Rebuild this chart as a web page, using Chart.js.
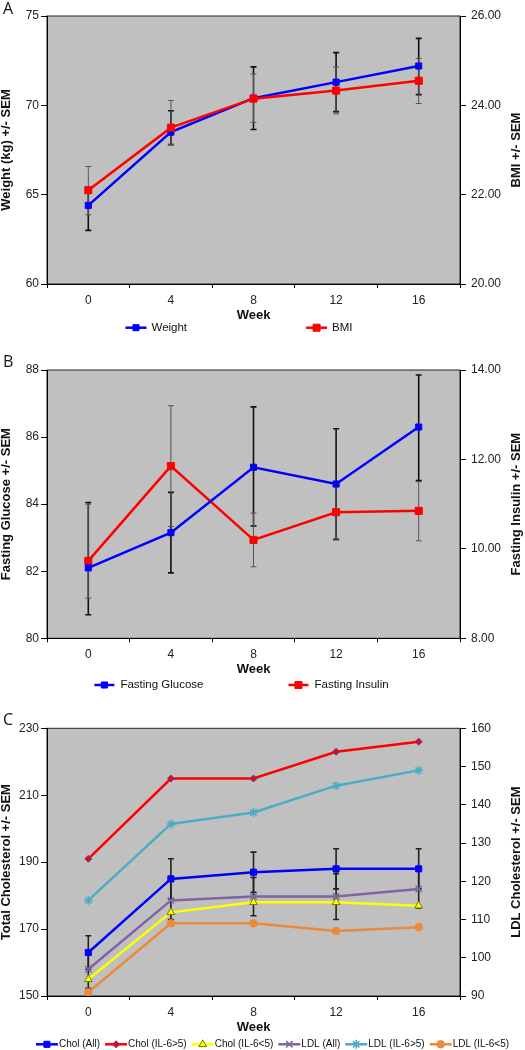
<!DOCTYPE html>
<html lang="en">
<head>
<meta charset="UTF-8">
<title>Weight, glucose and cholesterol by week</title>
<script src="https://cdn.jsdelivr.net/npm/chart.js@4.4.1/dist/chart.umd.min.js"></script>
<style>
  body { margin: 0; background: #fff; }
  canvas { position: absolute; left: 0; display: block; }
</style>
</head>
<body>
<canvas id="chartA" width="525" height="340" style="top:0"></canvas>
<canvas id="chartB" width="525" height="355" style="top:340px"></canvas>
<canvas id="chartC" width="525" height="355" style="top:695px"></canvas>

<script>
// ---- data ----
const weeks = ['0', '4', '8', '12', '16'];

// A: weight / BMI (error bar ends as drawn)
const weight = [64.4, 68.5, 70.4, 71.3, 72.2];
const weightLow = [63.0, 67.8, 68.65, 69.65, 70.6];
const weightHigh = [65.3, 69.7, 72.15, 72.95, 73.75];
const bmi = [22.1, 23.5, 24.15, 24.33, 24.55];
const bmiLow = [21.55, 23.12, 23.62, 23.81, 24.04];
const bmiHigh = [22.63, 24.11, 24.7, 24.86, 25.05];

// B: fasting glucose / insulin
const glucose = [82.1, 83.15, 85.1, 84.6, 86.3];
const glucoseLow = [80.7, 81.95, 83.35, 82.95, 84.7];
const glucoseHigh = [84.05, 84.35, 86.9, 86.25, 87.85];
const insulin = [9.73, 11.85, 10.2, 10.82, 10.85];
const insulinLow = [8.9, 10.5, 9.6, 10.2, 10.18];
const insulinHigh = [11.0, 13.2, 10.8, 11.45, 11.5];

// C: cholesterol
const cholAll = [163, 185, 187, 188, 188];
const cholAllSem = [5, 6, 6, 6, 6];
const cholIl6High = [191, 215, 215, 223, 226];
const cholIl6Low = [155, 175, 178, 178, 177];
const ldlAll = [97, 115, 116, 116, 118];
const ldlAllSem = [5, 5, 5, 6, 5];
const ldlIl6High = [115, 135, 138, 145, 149];
const ldlIl6Low = [91, 109, 109, 107, 108];

// axis tick labels
const weightTicks = [60, 65, 70, 75];
const bmiTicks = [20, 22, 24, 26];
const glucoseTicks = [80, 82, 84, 86, 88];
const insulinTicks = [8, 10, 12, 14];
const cholTicks = [150, 170, 190, 210, 230];
const ldlTicks = [90, 100, 110, 120, 130, 140, 150, 160];

const FONT = '"Liberation Sans", Arial, sans-serif';

// grey plot area with a thin frame
const plotBackground = {
    id: 'plotBackground',
    beforeDraw(chart) {
        const { ctx, chartArea: a } = chart;
        ctx.save();
        ctx.fillStyle = '#c0c0c0';
        ctx.fillRect(a.left, a.top, a.right - a.left, a.bottom - a.top);
        ctx.strokeStyle = '#222';
        ctx.lineWidth = 1;
        ctx.strokeRect(a.left, a.top, a.right - a.left, a.bottom - a.top);
        ctx.restore();
    }
};

// vertical error bars with small caps
const errorBars = {
    id: 'errorBars',
    beforeDatasetsDraw(chart) {
        const ctx = chart.ctx;
        chart.data.datasets.forEach((ds, i) => {
            if (!ds.errLow) return;
            const meta = chart.getDatasetMeta(i);
            const scale = chart.scales[ds.yAxisID];
            ctx.save();
            ctx.strokeStyle = ds.errColor;
            ctx.lineWidth = ds.errWidth;
            meta.data.forEach((pt, j) => {
                const yl = scale.getPixelForValue(ds.errLow[j]);
                const yh = scale.getPixelForValue(ds.errHigh[j]);
                ctx.beginPath();
                ctx.moveTo(pt.x, yl); ctx.lineTo(pt.x, yh);
                ctx.moveTo(pt.x - 3, yl); ctx.lineTo(pt.x + 3, yl);
                ctx.moveTo(pt.x - 3, yh); ctx.lineTo(pt.x + 3, yh);
                ctx.stroke();
            });
            ctx.restore();
        });
    }
};

// Excel style legend: line sample with marker, then label
function drawLegend(chart, lg) {
    const ctx = chart.ctx;
    ctx.save();
    ctx.font = lg.size + 'px ' + FONT;
    const items = chart.data.datasets.map(ds => ({
        ds, w: lg.lineLen + lg.textGap + ctx.measureText(ds.label).width
    }));
    const total = items.reduce((s, it) => s + it.w, 0) + lg.gap * (items.length - 1);
    let x = lg.cx - total / 2;
    items.forEach(({ ds, w }) => {
        ctx.strokeStyle = ds.borderColor;
        ctx.lineWidth = ds.borderWidth;
        ctx.beginPath();
        ctx.moveTo(x, lg.y);
        ctx.lineTo(x + lg.lineLen, lg.y);
        ctx.stroke();
        ctx.fillStyle = ds.pointBackgroundColor;
        ctx.strokeStyle = ds.pointBorderColor;
        ctx.lineWidth = ds.pointBorderWidth;
        Chart.helpers.drawPoint(ctx, {
            pointStyle: ds.pointStyle, radius: ds.pointRadius,
            borderWidth: ds.pointBorderWidth, rotation: 0
        }, x + lg.lineLen / 2, lg.y);
        ctx.fillStyle = '#111';
        ctx.textAlign = 'left';
        ctx.textBaseline = 'middle';
        ctx.fillText(ds.label, x + lg.lineLen + lg.textGap, lg.y);
        x += w + lg.gap;
    });
    ctx.restore();
}

// panel letter, right axis title (reads upward) and legend
const panelDecor = {
    id: 'panelDecor',
    afterDraw(chart, args, opts) {
        const { ctx, chartArea: a } = chart;
        ctx.save();
        ctx.fillStyle = '#111';
        ctx.font = '16px "Open Sans", sans-serif';
        ctx.textBaseline = 'alphabetic';
        ctx.fillText(opts.letter, 3, opts.letterY);
        ctx.font = 'bold 13px ' + FONT;
        ctx.translate(opts.rightTitleX, (a.top + a.bottom) / 2);
        ctx.rotate(-Math.PI / 2);
        ctx.textAlign = 'center';
        ctx.textBaseline = 'middle';
        ctx.fillText(opts.rightTitle, 0, 0);
        ctx.restore();
        drawLegend(chart, opts.legend);
    }
};

function yAxis(position, ticks, title, digits) {
    const left = position === 'left';
    return {
        position: position,
        min: ticks[0],
        max: ticks[ticks.length - 1],
        afterBuildTicks: s => { s.ticks = ticks.map(v => ({ value: v })); },
        afterFit: s => { s.width = left ? 47 : 65; },
        grid: { drawOnChartArea: false, tickLength: 6, tickColor: '#000' },
        border: { color: '#000' },
        ticks: {
            color: '#222', padding: left ? 2 : 5,
            font: { family: FONT, size: 12 },
            callback: v => v.toFixed(digits)
        },
        title: {
            display: left, text: title, color: '#111', padding: 0,
            font: { family: FONT, size: 13, weight: 'bold', lineHeight: 1 }
        }
    };
}

const xAxis = {
    offset: true,
    grid: { offset: true, drawOnChartArea: false, tickLength: 4, tickColor: '#000' },
    border: { color: '#000' },
    ticks: { color: '#222', padding: 5, maxRotation: 0, font: { family: FONT, size: 12 } },
    title: {
        display: true, text: 'Week', color: '#111', padding: 0,
        font: { family: FONT, size: 13, weight: 'bold', lineHeight: 1 }
    },
    afterFit: s => { s.height = 38; }
};

function series(label, data, color, style, radius, axis, extra) {
    return Object.assign({
        label: label, data: data, yAxisID: axis,
        borderColor: color, backgroundColor: color, borderWidth: 2.5, tension: 0,
        pointStyle: style, pointRadius: radius, pointBorderWidth: 1,
        pointBackgroundColor: color, pointBorderColor: color
    }, extra || {});
}

function makePanel(id, datasets, scales, pad, decor) {
    return new Chart(document.getElementById(id), {
        type: 'line',
        data: { labels: weeks, datasets: datasets },
        options: {
            responsive: false,
            animation: false,
            layout: { padding: { top: pad[0], bottom: pad[1], left: 0, right: 0 } },
            scales: scales,
            plugins: { legend: { display: false }, tooltip: { enabled: false }, panelDecor: decor }
        },
        plugins: [plotBackground, errorBars, panelDecor]
    });
}

// ---- A ----
makePanel('chartA', [
    series('Weight', weight, '#0000ff', 'rect', 4.3, 'y', {
        order: 1, errLow: weightLow, errHigh: weightHigh, errColor: '#111', errWidth: 1.6 }),
    series('BMI', bmi, '#ff0000', 'rect', 5, 'y1', {
        order: 0, errLow: bmiLow, errHigh: bmiHigh, errColor: '#555', errWidth: 1 })
], {
    x: xAxis,
    y: yAxis('left', weightTicks, 'Weight (kg) +/- SEM', 0),
    y1: yAxis('right', bmiTicks, '', 2)
}, [16, 18], {
    letter: 'A', letterY: 14, rightTitleX: 516, rightTitle: 'BMI +/- SEM',
    legend: { cx: 239, y: 327.7, gap: 119, lineLen: 21, textGap: 5, size: 11.5 }
});

// ---- B ----
makePanel('chartB', [
    series('Fasting Glucose', glucose, '#0000ff', 'rect', 4.3, 'y', {
        errLow: glucoseLow, errHigh: glucoseHigh, errColor: '#111', errWidth: 1.6 }),
    series('Fasting Insulin', insulin, '#ff0000', 'rect', 5, 'y1', {
        errLow: insulinLow, errHigh: insulinHigh, errColor: '#555', errWidth: 1 })
], {
    x: xAxis,
    y: yAxis('left', glucoseTicks, 'Fasting Glucose +/- SEM', 0),
    y1: yAxis('right', insulinTicks, '', 2)
}, [30, 18.7], {
    letter: 'B', letterY: 27, rightTitleX: 516, rightTitle: 'Fasting Insulin +/- SEM',
    legend: { cx: 241.5, y: 345, gap: 85, lineLen: 20, textGap: 6, size: 11.5 }
});

// ---- C ----
makePanel('chartC', [
    series('Chol (All)', cholAll, '#0000ff', 'rect', 4.3, 'y', {
        errLow: cholAll.map((v, i) => v - cholAllSem[i]),
        errHigh: cholAll.map((v, i) => v + cholAllSem[i]),
        errColor: '#222', errWidth: 1.6 }),
    series('Chol (IL-6>5)', cholIl6High, '#ff0000', 'rectRot', 3.5, 'y', {
        pointBorderColor: '#3a4aa8' }),
    series('Chol (IL-6<5)', cholIl6Low, '#ffff00', 'triangle', 4.5, 'y', {
        pointBorderColor: '#7a7a10' }),
    series('LDL (All)', ldlAll, '#8064a2', 'crossRot', 4.5, 'y1', {
        pointBorderWidth: 1.5,
        errLow: ldlAll.map((v, i) => v - ldlAllSem[i]),
        errHigh: ldlAll.map((v, i) => v + ldlAllSem[i]),
        errColor: '#222', errWidth: 1.6 }),
    series('LDL (IL-6>5)', ldlIl6High, '#4bacc6', 'star', 4.5, 'y1', { pointBorderWidth: 1.5 }),
    series('LDL (IL-6<5)', ldlIl6Low, '#ea8a3c', 'circle', 3.8, 'y1')
], {
    x: xAxis,
    y: yAxis('left', cholTicks, 'Total Cholesterol +/- SEM', 0),
    y1: yAxis('right', ldlTicks, '', 0)
}, [33.3, 16], {
    letter: 'C', letterY: 30, rightTitleX: 516, rightTitle: 'LDL Cholesterol +/- SEM',
    legend: { cx: 272.5, y: 349.3, gap: 5, lineLen: 22, textGap: 1, size: 10 }
});
</script>
</body>
</html>
